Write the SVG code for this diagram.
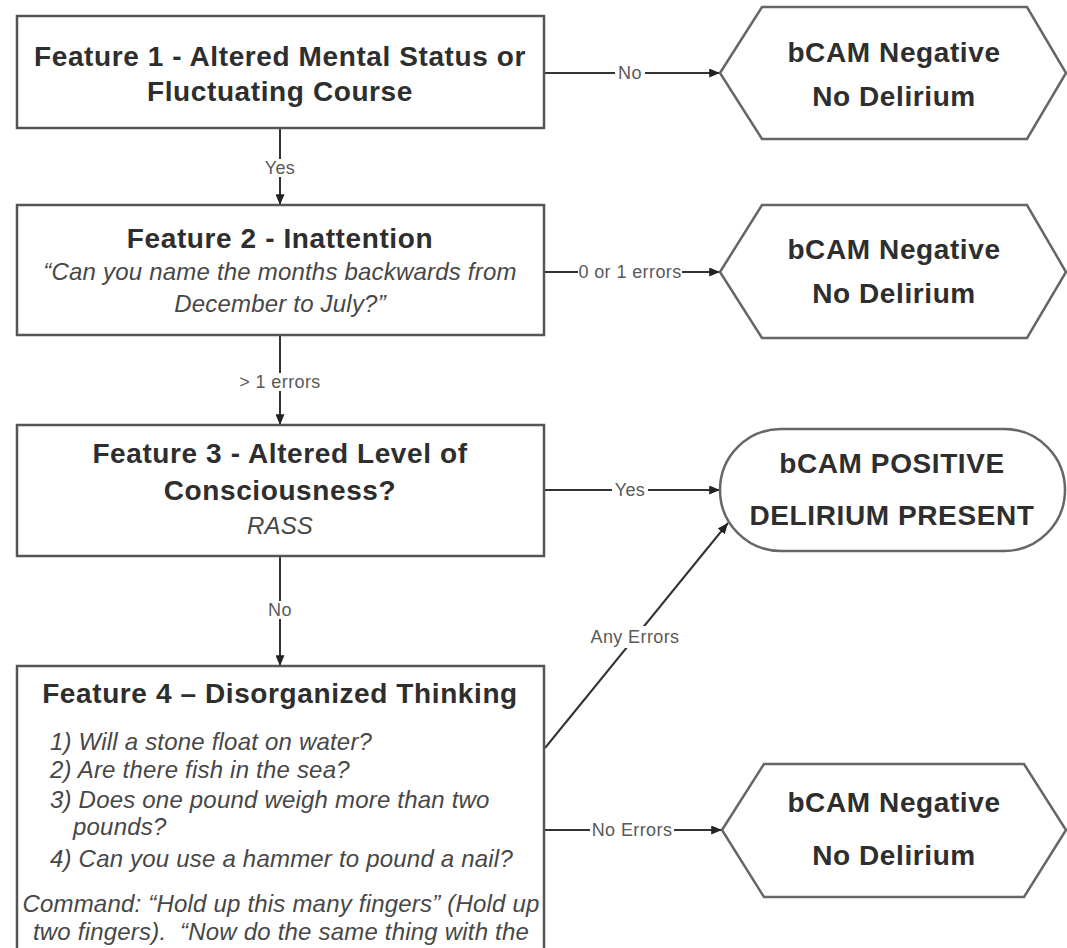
<svg xmlns="http://www.w3.org/2000/svg" width="1067" height="948" viewBox="0 0 1067 948">
<defs>
<style>
.box{fill:#fff;stroke:#555;stroke-width:2.5}
.term{fill:#fff;stroke:#666;stroke-width:2.5}
.edge{fill:none;stroke:#333;stroke-width:2}
.title{font-family:"Liberation Sans",Arial,sans-serif;font-weight:bold;font-size:28px;fill:#2e2e2e;text-anchor:middle;letter-spacing:0.6px}
.term-t{font-family:"Liberation Sans",Arial,sans-serif;font-weight:bold;font-size:28px;fill:#2e2e2e;text-anchor:middle;letter-spacing:0.6px}
.it{font-family:"Liberation Sans",Arial,sans-serif;font-style:italic;font-size:24px;fill:#474747;letter-spacing:0.2px}
.itc{text-anchor:middle}
.lbg{fill:#fff}
.lbl{font-family:"Liberation Sans",Arial,sans-serif;font-size:18px;fill:#595959;text-anchor:middle;letter-spacing:0.4px}
</style>
<marker id="arr" viewBox="0 0 12 10" refX="12" refY="5" markerWidth="11" markerHeight="9" markerUnits="userSpaceOnUse" orient="auto">
<path d="M0,0 L12,5 L0,10 Z" fill="#222"/>
</marker>
</defs>
<rect width="1067" height="948" fill="#fff"/>

<g id="connectors">
<line class="edge" x1="544" y1="73" x2="720" y2="73" marker-end="url(#arr)"/>
<rect class="lbg" x="615" y="64" width="30" height="18"/>
<text class="lbl" x="630" y="79">No</text>
<line class="edge" x1="280" y1="128" x2="280" y2="205" marker-end="url(#arr)"/>
<rect class="lbg" x="262" y="159" width="36" height="18"/>
<text class="lbl" x="280" y="174">Yes</text>
<line class="edge" x1="544" y1="272" x2="720" y2="272" marker-end="url(#arr)"/>
<rect class="lbg" x="578" y="263" width="104" height="18"/>
<text class="lbl" x="630" y="278">0 or 1 errors</text>
<line class="edge" x1="280" y1="335" x2="280" y2="425" marker-end="url(#arr)"/>
<rect class="lbg" x="238" y="373" width="84" height="18"/>
<text class="lbl" x="280" y="388">&gt; 1 errors</text>
<line class="edge" x1="544" y1="490" x2="720" y2="490" marker-end="url(#arr)"/>
<rect class="lbg" x="612" y="481" width="36" height="18"/>
<text class="lbl" x="630" y="496">Yes</text>
<line class="edge" x1="280" y1="556" x2="280" y2="666" marker-end="url(#arr)"/>
<rect class="lbg" x="265" y="601" width="30" height="18"/>
<text class="lbl" x="280" y="616">No</text>
<line class="edge" x1="545" y1="748" x2="728" y2="523" marker-end="url(#arr)"/>
<rect class="lbg" x="589" y="626" width="92" height="22"/>
<text class="lbl" x="635" y="643">Any Errors</text>
<line class="edge" x1="544" y1="830" x2="722" y2="830" marker-end="url(#arr)"/>
<rect class="lbg" x="590" y="821" width="84" height="18"/>
<text class="lbl" x="632" y="836">No Errors</text>
</g>

<g id="feature1">
<rect class="box" x="17" y="16" width="527" height="112"/>
<text class="title" x="280" y="66">Feature 1 - Altered Mental Status or</text>
<text class="title" x="280" y="101">Fluctuating Course</text>
</g>

<g id="feature2">
<rect class="box" x="17" y="205" width="527" height="130"/>
<text class="title" x="280" y="248">Feature 2 - Inattention</text>
<text class="it itc" x="280" y="280">“Can you name the months backwards from</text>
<text class="it itc" x="280" y="312">December to July?”</text>
</g>

<g id="feature3">
<rect class="box" x="17" y="425" width="527" height="131"/>
<text class="title" x="280" y="463">Feature 3 - Altered Level of</text>
<text class="title" x="280" y="500">Consciousness?</text>
<text class="it itc" x="280" y="534">RASS</text>
</g>

<g id="feature4">
<rect class="box" x="17" y="666" width="527" height="300"/>
<text class="title" x="280" y="703">Feature 4 – Disorganized Thinking</text>
<text class="it" x="50" y="750">1) Will a stone float on water?</text>
<text class="it" x="50" y="778">2) Are there fish in the sea?</text>
<text class="it" x="50" y="808">3) Does one pound weigh more than two</text>
<text class="it" x="73" y="835">pounds?</text>
<text class="it" x="50" y="867">4) Can you use a hammer to pound a nail?</text>
<text class="it itc" x="281" y="912">Command: “Hold up this many fingers” (Hold up</text>
<text class="it itc" x="281" y="940" style="white-space:pre">two fingers).  “Now do the same thing with the</text>
</g>

<g id="negative1">
<polygon class="term" points="720,73 762,7 1027,7 1066,73 1027,139 762,139"/>
<text class="term-t" x="894" y="62">bCAM Negative</text>
<text class="term-t" x="894" y="106">No Delirium</text>
</g>

<g id="negative2">
<polygon class="term" points="720,272 762,205 1027,205 1066,272 1027,338 762,338"/>
<text class="term-t" x="894" y="259">bCAM Negative</text>
<text class="term-t" x="894" y="303">No Delirium</text>
</g>

<g id="positive">
<rect class="term" x="720" y="429" width="345" height="122" rx="61" ry="61"/>
<text class="term-t" x="892" y="473">bCAM POSITIVE</text>
<text class="term-t" x="892" y="525">DELIRIUM PRESENT</text>
</g>

<g id="negative3">
<polygon class="term" points="722,830 764,764 1024,764 1066,830 1024,897 764,897"/>
<text class="term-t" x="894" y="812">bCAM Negative</text>
<text class="term-t" x="894" y="865">No Delirium</text>
</g>
</svg>
